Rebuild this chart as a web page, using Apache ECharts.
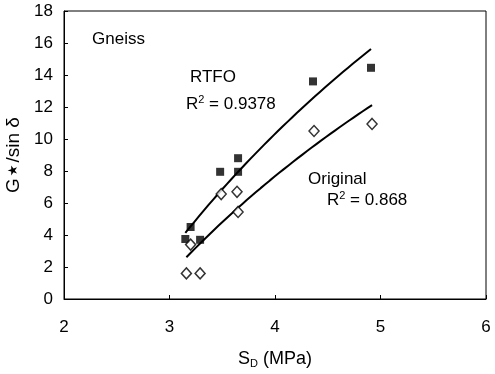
<!DOCTYPE html>
<html>
<head>
<meta charset="utf-8">
<script src="https://cdn.jsdelivr.net/npm/echarts@6/dist/echarts.min.js"></script>
<style>
html,body{margin:0;padding:0;background:#fff;}
#chart{width:495px;height:374px;}
</style>
</head>
<body>
<div id="chart"></div>
<script>
// Data
const rtfoX = [3.15, 3.20, 3.29, 3.48, 3.65, 3.65, 4.36, 4.91];
const rtfoY = [3.75, 4.50, 3.70, 7.95, 8.80, 7.95, 13.60, 14.45];
const origX = [3.16, 3.20, 3.29, 3.49, 3.64, 3.65, 4.37, 4.92];
const origY = [1.60, 3.40, 1.60, 6.56, 6.70, 5.44, 10.50, 10.94];
const xTicks = [2, 3, 4, 5, 6];
const yTicks = [0, 2, 4, 6, 8, 10, 12, 14, 16, 18];

// Logarithmic trendline (least squares on ln x), as in the original
function logFit(xs, ys) {
  const n = xs.length;
  const u = xs.map(Math.log);
  const mu = u.reduce((a, b) => a + b, 0) / n;
  const my = ys.reduce((a, b) => a + b, 0) / n;
  let suy = 0, suu = 0;
  for (let i = 0; i < n; i++) { suy += (u[i] - mu) * (ys[i] - my); suu += (u[i] - mu) ** 2; }
  const a = suy / suu, b = my - a * mu;
  const lo = Math.min(...xs), hi = Math.max(...xs);
  const pts = [];
  const steps = 40;
  for (let k = 0; k <= steps; k++) {
    const x = lo + (hi - lo) * k / steps;
    pts.push([x, a * Math.log(x) + b]);
  }
  return pts;
}

const zip = (xs, ys) => xs.map((x, i) => [x, ys[i]]);
const FONT = 'Liberation Sans, Arial, sans-serif';
const supRich = {
  t: {fontSize: 17, fontFamily: FONT, fill: '#000'},
  sup: {fontSize: 11, fontFamily: FONT, fill: '#000', verticalAlign: 'top', padding: [0, 0, 9, 0]}
};

const chart = echarts.init(document.getElementById('chart'), null, {renderer: 'canvas'});
chart.setOption({
  animation: false,
  backgroundColor: '#fff',
  textStyle: {fontFamily: FONT, color: '#000'},
  grid: {left: 64, right: 9, top: 11, bottom: 75, containLabel: false, outerBoundsMode: 'none',
         show: true, borderColor: '#000', borderWidth: 1, backgroundColor: 'transparent'},
  xAxis: {
    type: 'value', min: xTicks[0], max: xTicks[xTicks.length - 1], interval: 1,
    axisLine: {lineStyle: {color: '#000', width: 1}},
    axisTick: {inside: true, length: 4, lineStyle: {color: '#000'}},
    axisLabel: {color: '#000', fontSize: 17, fontFamily: FONT, margin: 20},
    splitLine: {show: false},
    name: '{s|S}{sub|D}{s| (MPa)}',
    nameLocation: 'middle', nameGap: 50,
    nameTextStyle: {
      rich: {
        s: {fontSize: 18, fontFamily: FONT, color: '#000'},
        sub: {fontSize: 11, fontFamily: FONT, color: '#000', verticalAlign: 'bottom', padding: [9, 0, 0, 0]}
      }
    }
  },
  yAxis: {
    type: 'value', min: yTicks[0], max: yTicks[yTicks.length - 1], interval: 2,
    axisLine: {show: true, lineStyle: {color: '#000', width: 1}},
    axisTick: {show: true, inside: true, length: 4, lineStyle: {color: '#000'}},
    axisLabel: {color: '#000', fontSize: 17, fontFamily: FONT, margin: 11},
    splitLine: {show: false},
    name: '{a|G}{st|\u2605}{a|/sin δ}',
    nameLocation: 'middle', nameGap: 40,
    nameTextStyle: {
      rich: {
        a: {fontSize: 19, fontFamily: FONT, color: '#000'},
        st: {fontSize: 13, fontFamily: 'DejaVu Sans', color: '#000', padding: [0, 2, 0, 2]}
      }
    }
  },
  series: [
    {
      name: 'RTFO fit', type: 'line', data: logFit(rtfoX, rtfoY), showSymbol: false, smooth: false,
      lineStyle: {color: '#000', width: 2}, z: 2
    },
    {
      name: 'Original fit', type: 'line', data: logFit(origX, origY), showSymbol: false, smooth: false,
      lineStyle: {color: '#000', width: 2}, z: 2
    },
    {
      name: 'RTFO', type: 'scatter', data: zip(rtfoX, rtfoY), symbol: 'rect', symbolSize: 8,
      itemStyle: {color: '#000'}, z: 3
    },
    {
      name: 'Original', type: 'scatter', data: zip(origX, origY), symbol: 'diamond', symbolSize: [10, 11],
      itemStyle: {color: '#fff', borderColor: '#000', borderWidth: 1.5}, z: 3
    }
  ],
  graphic: [
    {type: 'text', left: 92, top: 31, style: {text: 'Gneiss', font: '17px ' + FONT, fill: '#000'}},
    {type: 'text', left: 190, top: 69, style: {text: 'RTFO', font: '17px ' + FONT, fill: '#000'}},
    {type: 'text', left: 186, top: 94, style: {text: '{t|R}{sup|2}{t| = 0.9378}', fill: '#000', rich: supRich}},
    {type: 'text', left: 308, top: 171, style: {text: 'Original', font: '17px ' + FONT, fill: '#000'}},
    {type: 'text', left: 327, top: 190, style: {text: '{t|R}{sup|2}{t| = 0.868}', fill: '#000', rich: supRich}}
  ]
});
</script>
</body>
</html>
